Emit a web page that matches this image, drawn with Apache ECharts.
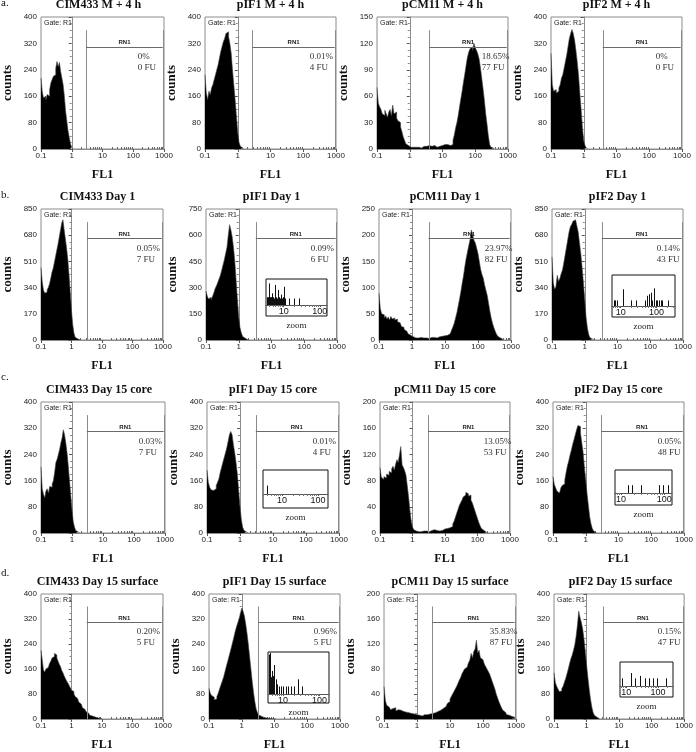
<!DOCTYPE html>
<html><head><meta charset="utf-8">
<script src="https://cdn.jsdelivr.net/npm/echarts@6/dist/echarts.min.js"></script>
<style>html,body{margin:0;padding:0;background:#fff}#c{width:696px;height:752px}</style>
</head><body><div id="c"></div>
<script>
// ---------- data ----------
const rowLetters = ['a.', 'b.', 'c.', 'd.'];
const titles = ['CIM433 M + 4 h', 'pIF1 M + 4 h', 'pCM11 M + 4 h', 'pIF2 M + 4 h',
  'CIM433 Day 1', 'pIF1 Day 1', 'pCM11 Day 1', 'pIF2 Day 1',
  'CIM433 Day 15 core', 'pIF1 Day 15 core', 'pCM11 Day 15 core', 'pIF2 Day 15 core',
  'CIM433 Day 15 surface', 'pIF1 Day 15 surface', 'pCM11 Day 15 surface', 'pIF2 Day 15 surface'];
const yMax = [400, 400, 150, 400, 850, 750, 250, 850, 400, 400, 200, 400, 400, 400, 200, 400];
const pctLabels = ['0%', '0.01%', '18.65%', '0%', '0.05%', '0.09%', '23.97%', '0.14%',
  '0.03%', '0.01%', '13.05%', '0.05%', '0.20%', '0.96%', '35.83%', '0.15%'];
const fuLabels = ['0 FU', '4 FU', '77 FU', '0 FU', '7 FU', '6 FU', '82 FU', '43 FU',
  '7 FU', '4 FU', '53 FU', '48 FU', '5 FU', '5 FU', '87 FU', '47 FU'];
const gateLog = [0.47, 0.45, 0.60, 0.58, 0.51, 0.52, 0.50, 0.52, 0.48, 0.48, 0.48, 0.48, 0.50, 0.51, 0.46, 0.51];
const rnRightLog = 2.96;
const xTickLogs = [-1, 0, 1, 2, 3];
const xTickLabels = ['0.1', '1', '10', '100', '1000'];
const insetTickLogs = [1, 2];
const insetTickLabels = ['10', '100'];
// histogram bins: log10(FL1) from -1 in steps of 0.04
const binStartLog = -1, binWidthLog = 0.04;

const countsA1 = [215,175,155,160,150,165,160,180,200,210,220,225,245,265,250,262,235,215,195,160,115,85,55,35,15,5,0];
const countsA2 = [225,170,150,175,165,185,195,210,225,240,255,275,295,310,325,335,350,355,340,320,290,240,195,150,100,50,20,8,3,0];
const countsA3 = [70,52,48,45,40,38,44,40,36,42,45,38,50,40,42,35,32,30,25,20,14,10,6,4,3,2,4,2,1,2,1,2,3,1,2,3,2,3,1,4,2,3,2,4,3,2,4,3,5,4,3,5,4,5,6,4,4,5,10,16,24,30,38,48,57,66,76,85,95,104,110,114,116,112,120,115,112,108,102,92,80,68,55,40,28,15,5,2,1,0];
const countsA4 = [290,195,175,180,170,175,185,195,215,225,245,265,285,310,335,350,362,350,330,300,265,225,170,120,65,25,10,3,0];
const countsB1 = [470,380,325,305,310,325,340,365,400,440,465,505,545,585,625,670,715,760,780,715,655,595,520,420,310,190,100,45,18,8,3,1,0];
const countsB2 = [280,250,235,245,230,250,270,295,310,330,350,370,400,430,460,495,530,600,660,630,590,530,450,340,230,130,70,40,20,10,5,2,1,0];
const countsB3 = [89,60,50,48,42,46,40,44,38,45,40,42,38,40,35,33,30,26,24,20,17,14,12,9,7,6,5,4,3,4,3,5,3,4,6,4,5,3,6,5,7,5,6,4,7,6,5,7,6,8,7,9,10,12,15,19,25,32,42,52,65,78,92,108,122,140,155,168,180,192,210,200,190,185,175,165,150,135,125,118,105,95,85,70,55,42,32,24,17,11,7,4,2,1,0];
const countsB4 = [540,370,330,345,420,380,400,430,455,500,550,600,650,700,735,750,770,780,770,740,700,630,560,470,370,260,150,80,35,15,6,2,0];
const countsC1 = [202,135,118,108,128,135,122,142,140,150,160,185,215,225,240,255,275,290,315,300,275,245,205,160,115,70,35,18,8,3,1,0];
const countsC2 = [192,155,140,132,130,128,135,145,155,165,185,200,215,230,245,260,280,300,310,300,270,245,215,180,130,80,42,18,8,3,1,0];
const countsC3 = [100,85,82,86,84,90,88,94,92,98,102,96,105,112,108,120,132,104,100,95,88,72,55,35,18,9,5,3,4,2,3,2,4,3,2,3,4,2,3,4,3,5,3,4,5,3,6,4,5,6,5,7,6,8,9,10,14,18,24,30,36,42,46,50,55,58,62,60,56,58,50,46,40,34,28,22,16,11,7,4,2,1,0];
const countsC4 = [172,148,138,128,122,127,138,145,150,162,185,205,220,238,253,270,285,300,315,328,325,305,275,245,200,160,120,85,50,28,14,6,2,0];
const countsD1 = [220,190,158,150,160,165,170,178,185,195,200,210,205,195,185,175,168,155,148,138,130,122,115,108,100,92,88,80,72,66,60,54,48,42,36,31,27,23,19,15,12,10,9,7,5,4,3,2,2,1,0];
const countsD2 = [98,82,75,70,62,64,72,82,95,108,120,132,148,165,180,196,212,228,245,262,280,295,308,322,338,355,345,330,305,275,240,200,160,120,85,55,32,20,13,9,7,5,4,3,4,2,3,1,2,1,1,0];
const countsD3 = [52,30,22,19,17,15,17,14,18,13,15,12,14,11,12,10,11,9,10,8,9,7,8,6,7,8,6,7,5,6,7,5,7,6,8,7,9,8,10,11,12,13,14,15,17,18,20,22,25,28,32,36,40,44,48,52,57,62,66,72,76,80,83,86,90,94,105,98,108,112,126,106,110,98,95,92,88,84,80,76,72,66,60,54,48,40,34,28,23,18,14,11,9,7,6,5,4,3,3,2,0];
const countsD4 = [148,118,105,97,88,90,98,105,118,130,145,160,178,193,205,220,238,265,300,345,325,310,290,258,218,175,135,98,66,40,22,12,6,3,1,0];
const allCounts = [countsA1, countsA2, countsA3, countsA4, countsB1, countsB2, countsB3, countsB4,
  countsC1, countsC2, countsC3, countsC4, countsD1, countsD2, countsD3, countsD4];

// zoom insets: [log10 FL1, relative height (0-10)]
const insetB2 = [[0.54,3],[0.56,3],[0.59,8.3],[0.62,3],[0.65,3],[0.68,4.5],[0.70,3],[0.73,2.5],[0.75,7.7],[0.78,3],[0.81,2.5],[0.83,5.8],[0.86,3],[0.89,2.5],[0.92,4],[0.94,2.5],[0.97,3],[1.0,7],[1.04,2.5],[1.14,2.5],[1.28,2.5],[1.42,2.5]];
const insetB4 = [[0.80,1.8],[0.85,1.8],[0.90,1.8],[1.07,5.4],[1.28,1.8],[1.42,1.8],[1.67,1.8],[1.73,3.3],[1.79,3.8],[1.84,4.3],[1.88,1.8],[1.93,5.7],[1.98,1.8],[2.03,1.8],[2.07,1.8],[2.12,1.8],[2.16,1.8],[2.32,1.8]];
const insetC2 = [[0.58,3.5]];
const insetC4 = [[1.16,3.4],[1.26,3.4],[1.46,3.4],[1.88,3.4],[1.98,3.4],[2.08,3.4]];
const insetD2 = [[0.617,9.4],[0.63,6],[0.654,9.8],[0.67,4],[0.69,5.5],[0.71,3.5],[0.727,4.3],[0.763,6.9],[0.80,3.5],[0.836,2.3],[0.89,1.8],[0.945,1.8],[1.0,1.8],[1.07,1.8],[1.145,1.8],[1.22,1.8],[1.29,1.8],[1.40,3.5],[1.52,1.8]];
const insetD4 = [[0.86,3.2],[1.14,5.4],[1.26,3.2],[1.42,4.2],[1.58,3.2],[1.71,3.2],[1.84,3.2],[1.97,3.2],[2.24,3.2]];

// ---------- layout ----------
const panelRects = [
  [33,17,131,132],[205,17,131,132],[377,17,131,132],[551,17,131,132],
  [32,209,131,131],[206,209,131,131],[379,209,132,131],[552,209,131,131],
  [33,402,132,131],[207,402,132,131],[380,402,130,131],[553,402,131,131],
  [32,594,131,131],[209,594,131,131],[384,594,132,131],[554,594,133,131]];
const letterY = [3, 195, 377, 573];
const insets = [
  {panel:5, box:[266,279,61,37], plotH:26, range:[0.51,2.2], data:insetB2},
  {panel:7, box:[612,275,63,42], plotH:31, range:[0.757,2.52], data:insetB4},
  {panel:9, box:[263,470,65,38], plotH:24, range:[0.47,2.28], data:insetC2},
  {panel:11, box:[615,470,57,35], plotH:23, range:[0.86,2.18], data:insetC4},
  {panel:13, box:[268,652,61,51], plotH:42, range:[0.59,2.26], data:insetD2},
  {panel:15, box:[620,662,53,35], plotH:24, range:[0.8,2.47], data:insetD4}];

const SANS = 'Liberation Sans', SERIF = 'Liberation Serif';
function minorLogs(lo, hi) {
  const out = [];
  for (let n = -1; n <= 3; n++) for (let k = 2; k <= 9; k++) {
    const v = n + Math.log10(k);
    if (v > lo && v < hi) out.push(v);
  }
  return out;
}

const grids = [], xAxes = [], yAxes = [], series = [], gfx = [];
const crisp = v => Math.round(v) + 0.5;

panelRects.forEach((r, i) => {
  grids.push({left:r[0], top:r[1], width:r[2], height:r[3], show:true, borderColor:'#8c8c8c', borderWidth:1, backgroundColor:'transparent'});
  const gi = grids.length - 1;
  xAxes.push({gridIndex:gi, type:'value', min:-1, max:3, position:'bottom',
    axisLine:{show:true, lineStyle:{color:'#8c8c8c'}},
    axisTick:{show:true, customValues:xTickLogs, length:3, lineStyle:{color:'#555'}},
    axisLabel:{customValues:xTickLogs, formatter:v => xTickLabels[xTickLogs.indexOf(Math.round(v))],
      fontSize:8, fontFamily:SANS, color:'#222', margin:3},
    splitLine:{show:false},
    name:'FL1', nameLocation:'middle', nameGap:20,
    nameTextStyle:{fontFamily:SERIF, fontWeight:'bold', fontSize:12, color:'#111'}});
  const xi = xAxes.length - 1;
  xAxes.push({gridIndex:gi, type:'value', min:-1, max:3, position:'bottom',
    axisLine:{show:false}, axisLabel:{show:false}, splitLine:{show:false},
    axisTick:{show:true, inside:true, length:2, customValues:minorLogs(-1, 3), lineStyle:{color:'#666'}}});
  yAxes.push({gridIndex:gi, type:'value', min:0, max:yMax[i], interval:yMax[i] / 5,
    axisLine:{show:true, lineStyle:{color:'#8c8c8c'}},
    axisTick:{show:true, length:3, lineStyle:{color:'#555'}},
    minorTick:{show:true, splitNumber:4, length:2, lineStyle:{color:'#888'}},
    axisLabel:{fontSize:8, fontFamily:SANS, color:'#222', margin:4},
    splitLine:{show:false},
    name:'counts', nameLocation:'middle', nameGap:27,
    nameTextStyle:{fontFamily:SERIF, fontWeight:'bold', fontSize:13, color:'#111'}});
  const yi = yAxes.length - 1;
  series.push({type:'line', xAxisIndex:xi, yAxisIndex:yi, step:'end', symbol:'none', silent:true,
    data:allCounts[i].map((c, k) => [binStartLog + k * binWidthLog, c]),
    lineStyle:{color:'#444', width:0.6}, areaStyle:{color:'#000', opacity:1}, z:2});
  series.push({type:'custom', xAxisIndex:xi, yAxisIndex:yi, silent:true, z:5, clip:false, data:[[0, 0]],
    renderItem:(params, api) => {
      const ym = yMax[i];
      const g = api.coord([gateLog[i], 0]);
      const top = api.coord([gateLog[i], ym * 0.9]);
      const rx = api.coord([rnRightLog, 0])[0];
      const yh = api.coord([gateLog[i], ym * 0.775])[1];
      const corner = api.coord([-1, ym]);
      const txt = (x, y, text, o) => ({type:'text', x, y, style:Object.assign({text, fill:'#222', align:'left', verticalAlign:'middle'}, o)});
      return {type:'group', children:[
        {type:'line', shape:{x1:crisp(g[0]), y1:g[1], x2:crisp(g[0]), y2:top[1]}, style:{stroke:'#8a8a8a', lineWidth:1}},
        {type:'line', shape:{x1:crisp(rx), y1:g[1], x2:crisp(rx), y2:top[1]}, style:{stroke:'#8a8a8a', lineWidth:1}},
        {type:'line', shape:{x1:g[0], y1:crisp(yh), x2:rx, y2:crisp(yh)}, style:{stroke:'#6a6a6a', lineWidth:1}},
        txt((g[0] + rx) / 2, yh - 4, 'RN1', {fontSize:6, fontWeight:'bold', fontFamily:SANS, align:'center'}),
        txt(rx - 25, yh + 10, pctLabels[i], {fontSize:9, fontFamily:SERIF, fill:'#333'}),
        txt(rx - 25, yh + 21, fuLabels[i], {fontSize:9, fontFamily:SERIF, fill:'#333'}),
        txt(corner[0] + 3, corner[1] + 6, 'Gate: R1', {fontSize:7, fontFamily:SANS})
      ]};
    }});
  gfx.push({type:'text', x:r[0] + r[2] / 2, y:r[1] - 12, silent:true,
    style:{text:titles[i], fontSize:12, fontWeight:'bold', fontFamily:SERIF, fill:'#111', align:'center', verticalAlign:'middle'}});
});

rowLetters.forEach((t, k) => gfx.push({type:'text', x:1, y:letterY[k], silent:true,
  style:{text:t, fontSize:11, fontFamily:SERIF, fill:'#111', align:'left', verticalAlign:'middle'}}));

insets.forEach(ins => {
  const b = ins.box;
  // frame
  grids.push({left:b[0], top:b[1], width:b[2], height:b[3], show:true, borderColor:'#111', borderWidth:1, backgroundColor:'transparent'});
  const fg = grids.length - 1;
  xAxes.push({gridIndex:fg, type:'value', show:false, min:0, max:1});
  yAxes.push({gridIndex:fg, type:'value', show:false, min:0, max:1});
  // plot
  grids.push({left:b[0], top:b[1], width:b[2], height:ins.plotH});
  const pg = grids.length - 1;
  xAxes.push({gridIndex:pg, type:'value', min:ins.range[0], max:ins.range[1], position:'bottom',
    axisLine:{show:true, lineStyle:{color:'#555'}},
    axisTick:{show:true, customValues:insetTickLogs, length:2, lineStyle:{color:'#555'}},
    axisLabel:{customValues:insetTickLogs, formatter:v => insetTickLabels[insetTickLogs.indexOf(Math.round(v))],
      fontSize:9, fontFamily:SANS, color:'#111', margin:2},
    splitLine:{show:false},
    name:'zoom', nameLocation:'middle', nameGap:(b[3] - ins.plotH) + 5,
    nameTextStyle:{fontFamily:SERIF, fontSize:9, color:'#222'}});
  const xi = xAxes.length - 1;
  xAxes.push({gridIndex:pg, type:'value', min:ins.range[0], max:ins.range[1], position:'bottom',
    axisLine:{show:false}, axisLabel:{show:false}, splitLine:{show:false},
    axisTick:{show:true, length:2, customValues:minorLogs(ins.range[0], ins.range[1]), lineStyle:{color:'#777'}}});
  yAxes.push({gridIndex:pg, type:'value', show:false, min:0, max:10});
  const yi = yAxes.length - 1;
  series.push({type:'custom', xAxisIndex:xi, yAxisIndex:yi, silent:true, z:6, data:ins.data,
    renderItem:(params, api) => {
      const p0 = api.coord([api.value(0), 0]);
      const p1 = api.coord([api.value(0), api.value(1)]);
      return {type:'line', shape:{x1:crisp(p0[0]), y1:p0[1], x2:crisp(p0[0]), y2:p1[1]}, style:{stroke:'#111', lineWidth:1}};
    }});
});

const chart = echarts.init(document.getElementById('c'), null, {renderer:'canvas'});
chart.setOption({animation:false, backgroundColor:'#fff', grid:grids, xAxis:xAxes, yAxis:yAxes, series, graphic:{elements:gfx}});
</script></body></html>
